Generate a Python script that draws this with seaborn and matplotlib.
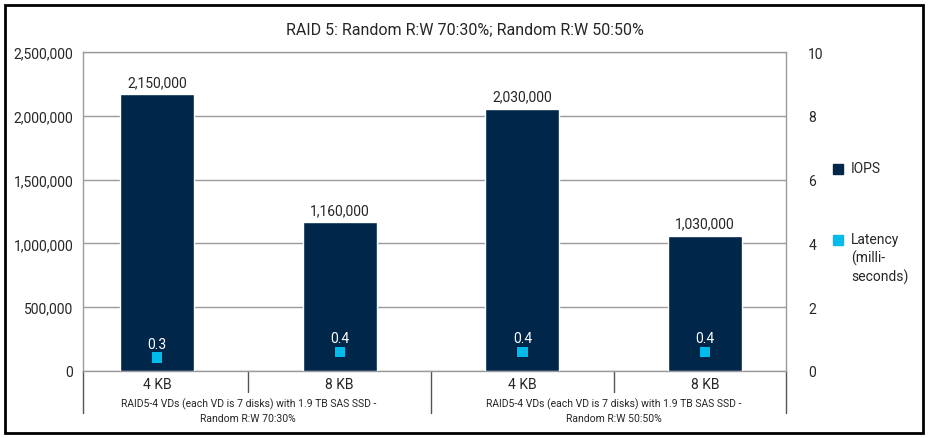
import pandas as pd
import seaborn as sns
import matplotlib.pyplot as plt
from matplotlib.patches import Rectangle
from matplotlib.lines import Line2D

block_sizes = ["4 KB", "8 KB", "4 KB", "8 KB"]
groups = ["RAID5-4 VDs (each VD is 7 disks) with 1.9 TB SAS SSD -\nRandom R:W 70:30%",
          "RAID5-4 VDs (each VD is 7 disks) with 1.9 TB SAS SSD -\nRandom R:W 50:50%"]
iops = [2170000, 1165000, 2055000, 1060000]
iops_labels = ["2,150,000", "1,160,000", "2,030,000", "1,030,000"]
latency = [0.42, 0.6, 0.6, 0.6]
latency_labels = ["0.3", "0.4", "0.4", "0.4"]
legend_labels = ["IOPS", "Latency\n(milli-\nseconds)"]

navy = "#002649"
cyan = "#00BCEB"
grid = "#9a9a9a"

sns.set_style("white")
plt.rcParams['font.family'] = ['Roboto', 'DejaVu Sans']

df = pd.DataFrame({"pos": range(4), "iops": iops, "lat": latency})

W, H = 929, 439
fig = plt.figure(figsize=(W / 100, H / 100), dpi=100)
ax = fig.add_axes([83 / W, (H - 372) / H, (786 - 83) / W, (372 - 53) / H])

sns.barplot(data=df, x="pos", y="iops", color=navy, width=0.405, saturation=1,
            ax=ax, zorder=3)
ax.set_ylim(0, 2500000)
ax.set_xlim(-0.405, 3.443)
ax.set_yticks(range(0, 2500001, 500000))
ax.set_yticklabels([f"{v:,}" for v in range(0, 2500001, 500000)], fontsize=10)
ax.set_xticks([])
ax.set_xlabel("")
ax.set_ylabel("")
ax.grid(axis="y", color=grid, lw=1, zorder=0)
ax.tick_params(axis="y", length=0, pad=7)
for s in ax.spines.values():
    s.set_color(grid)
    s.set_linewidth(1)
for i, lab in enumerate(iops_labels):
    ax.text(i, iops[i] + 40000, lab, ha="center", va="bottom", fontsize=10)

ax2 = ax.twinx()
sns.scatterplot(data=df, x="pos", y="lat", marker="s", color=cyan, s=55,
                edgecolor="none", ax=ax2, zorder=4)
ax2.set_ylim(0, 10)
ax2.set_yticks(range(0, 11, 2))
ax2.set_yticklabels([str(v) for v in range(0, 11, 2)], fontsize=10)
ax2.tick_params(axis="y", length=0, pad=16)
ax2.set_xlabel("")
ax2.set_ylabel("")
for s in ax2.spines.values():
    s.set_visible(False)
for i, lab in enumerate(latency_labels):
    ax2.text(i, latency[i] + 0.22, lab, ha="center", va="bottom", fontsize=10, color="white")

# category axis below the plot
tr = ax.get_xaxis_transform()
for x, y0 in [(-0.405, -0.132), (0.5, -0.065), (1.5, -0.132), (2.5, -0.065), (3.443, -0.132)]:
    ax.add_line(Line2D([x, x], [0, y0], transform=tr, color="#555555", lw=1, clip_on=False))
for i, lab in enumerate(block_sizes):
    ax.text(i, -0.04, lab, transform=tr, ha="center", va="center", fontsize=10)
for g, lab in enumerate(groups):
    ax.text(0.5 + 2 * g, -0.123, lab, transform=tr, ha="center", va="center",
            fontsize=7.5, linespacing=1.45)

# legend, drawn by hand so the marker sits on the first text line
for (ly, col), lab in zip([(170, navy), (241, cyan)], legend_labels):
    fig.add_artist(Line2D([838 / W], [1 - ly / H], marker="s", ls="", color=col,
                          markersize=7.5, transform=fig.transFigure))
    fig.text(851 / W, 1 - (ly - 8) / H, lab, ha="left", va="top", fontsize=10,
             linespacing=1.3)

fig.suptitle("RAID 5: Random R:W 70:30%; Random R:W 50:50%", x=0.5, y=1 - 30 / H,
             va="center", fontsize=11.5)
fig.patches.append(Rectangle((5 / W, 5 / H), 918 / W, 428 / H, transform=fig.transFigure,
                             fill=False, ec="black", lw=2))
fig.savefig("out.png", dpi=100)
